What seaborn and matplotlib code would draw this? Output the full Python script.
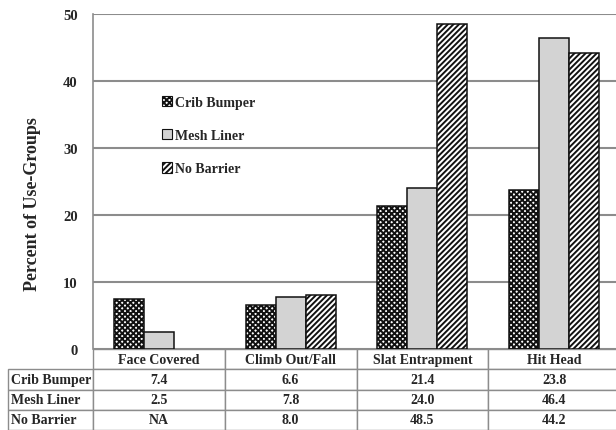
import pandas as pd
import numpy as np
import matplotlib
matplotlib.use("Agg")
import matplotlib.pyplot as plt
import seaborn as sns
from matplotlib.patches import Patch

categories = ["Face Covered", "Climb Out/Fall", "Slat Entrapment", "Hit Head"]
groups = ["Crib Bumper", "Mesh Liner", "No Barrier"]
crib_bumper = [7.4, 6.6, 21.4, 23.8]
mesh_liner = [2.5, 7.8, 24.0, 46.4]
no_barrier = [np.nan, 8.0, 48.5, 44.2]
table_text = {
    "Crib Bumper": ["7.4", "6.6", "21.4", "23.8"],
    "Mesh Liner": ["2.5", "7.8", "24.0", "46.4"],
    "No Barrier": ["NA", "8.0", "48.5", "44.2"],
}
y_ticks = [0, 10, 20, 30, 40, 50]

sns.set_theme(style="white")
plt.rcParams["font.family"] = ["Liberation Serif", "DejaVu Serif"]
plt.rcParams["font.weight"] = "bold"
plt.rcParams["hatch.linewidth"] = 1.4

df = pd.DataFrame({
    "category": categories * 3,
    "group": [g for g in groups for _ in categories],
    "value": crib_bumper + mesh_liner + no_barrier,
})

colors = {"Crib Bumper": "white", "Mesh Liner": "#d3d3d3", "No Barrier": "white"}
hatches = {"Crib Bumper": "xxxxxx", "Mesh Liner": "", "No Barrier": "//////"}

fig = plt.figure(figsize=(6.16, 4.31), dpi=100)
ax = fig.add_axes([93 / 616, (431 - 350) / 431, 527 / 616, 335 / 431])

sns.barplot(data=df, x="category", y="value", hue="group", hue_order=groups,
            palette=colors, width=0.684, gap=0, edgecolor="black", linewidth=1.1,
            legend=False, ax=ax)

for cont, g in zip(ax.containers, groups):
    for p in cont.patches:
        p.set_hatch(hatches[g])
        p.set_edgecolor("#111111")

ax.set_xlim(-0.5, 3.5)
ax.set_ylim(0, 50)
ax.set_yticks(y_ticks)
ax.set_yticklabels([str(t) for t in y_ticks], fontsize=10.5, fontweight="bold")
ax.tick_params(axis="y", length=0, pad=11)
ax.set_xticks([])
ax.set_xlabel("")
ax.set_ylabel("Percent of Use-Groups", fontsize=13, fontweight="bold")
ax.yaxis.set_label_coords(-0.098, 0.435)
ax.yaxis.grid(True, color="#8c8c8c", linewidth=1.5)
ax.set_axisbelow(True)
for side in ["top", "right", "bottom"]:
    ax.spines[side].set_visible(False)
ax.spines["left"].set_color("#8c8c8c")
ax.spines["left"].set_linewidth(1.2)

handles = [Patch(facecolor=colors[g], edgecolor="#111111", hatch=hatches[g], linewidth=0.8)
           for g in groups]
ax.legend(handles, groups, loc="upper left", bbox_to_anchor=(0.131, 0.755),
          frameon=False, handlelength=0.75, handleheight=0.75, handletextpad=0.2,
          labelspacing=1.45, borderpad=0, borderaxespad=0,
          prop={"weight": "bold", "size": 10})

cell_text = [[g] + table_text[g] for g in groups]
tbl = ax.table(cellText=cell_text, colLabels=[""] + categories,
               colWidths=[85 / 527] + [0.25] * 4, cellLoc="center",
               bbox=[-85 / 527, -81 / 335, 1 + 85 / 527, 81 / 335])
tbl.auto_set_font_size(False)
for (r, c), cell in tbl.get_celld().items():
    cell.set_edgecolor("#8c8c8c")
    cell.set_linewidth(1.0)
    cell.get_text().set_fontsize(10)
    cell.get_text().set_fontweight("bold")
    if r == 0 and c == 0:
        cell.visible_edges = "open"
    if c == 0 and r > 0:
        cell.get_text().set_ha("left")
        cell.PAD = 0.03

fig.savefig("out.png", dpi=100)
